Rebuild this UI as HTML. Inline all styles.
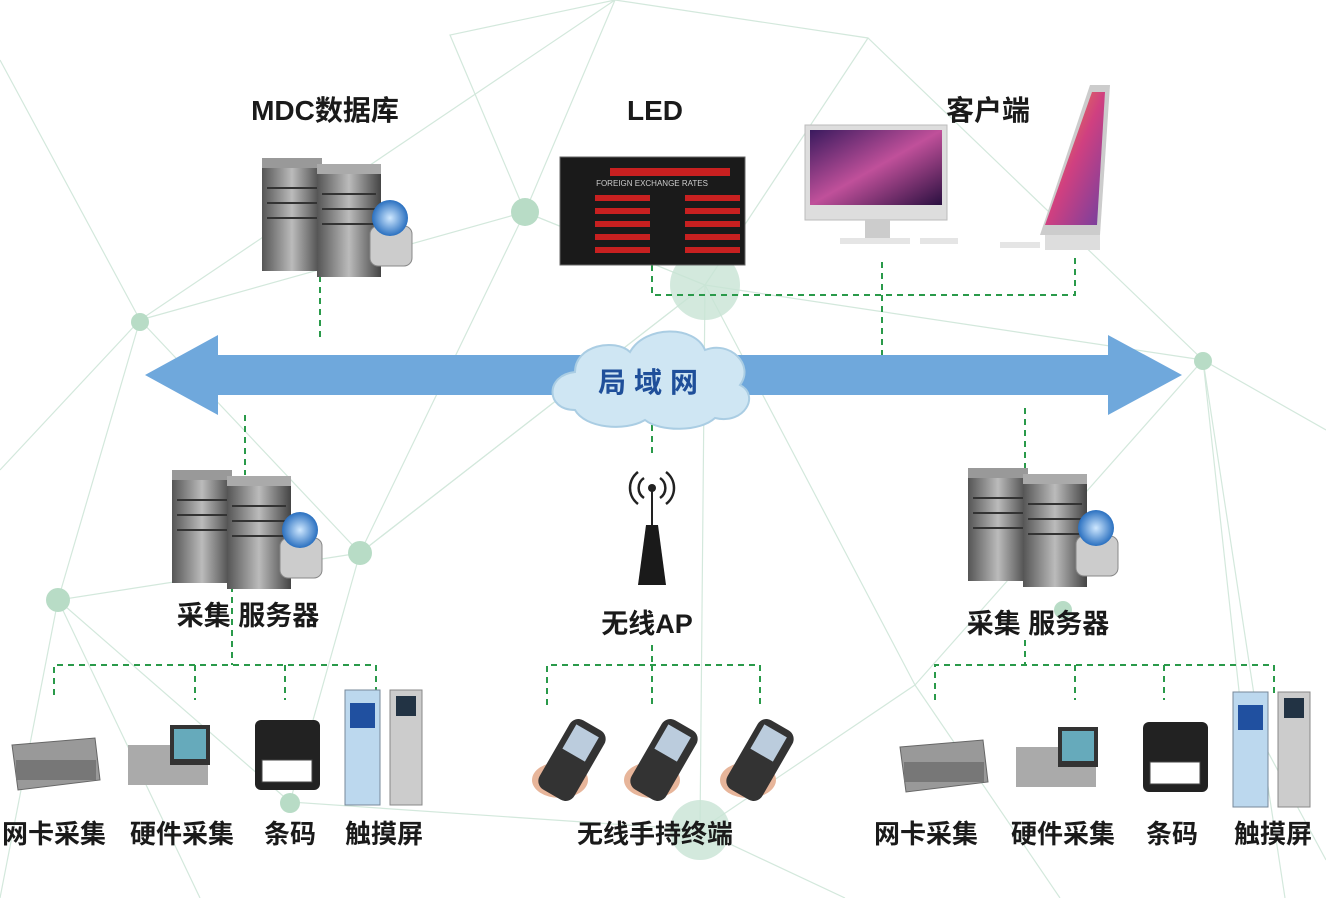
<!DOCTYPE html>
<html><head><meta charset="utf-8"><style>
html,body{margin:0;padding:0;background:#fff;}
svg{display:block}
text{font-family:"Liberation Sans","Noto Sans CJK SC",sans-serif;fill:#1a1a1a;}
.lb{font-weight:bold;}
</style></head><body>
<svg width="1326" height="898" viewBox="0 0 1326 898" xmlns="http://www.w3.org/2000/svg">
<defs>
<linearGradient id="srv" x1="0" x2="1"><stop offset="0" stop-color="#555"/><stop offset="0.5" stop-color="#bbb"/><stop offset="1" stop-color="#444"/></linearGradient>
<linearGradient id="scr" x1="0" y1="0" x2="1" y2="1"><stop offset="0" stop-color="#3a1a5e"/><stop offset="0.5" stop-color="#c0509a"/><stop offset="1" stop-color="#2a1040"/></linearGradient>
<linearGradient id="scr2" x1="0" y1="0" x2="1" y2="1"><stop offset="0" stop-color="#f0a030"/><stop offset="0.5" stop-color="#d04080"/><stop offset="1" stop-color="#7040a0"/></linearGradient>
<radialGradient id="globe"><stop offset="0" stop-color="#cfe8ff"/><stop offset="1" stop-color="#2a70c0"/></radialGradient>
<g id="server">
 <rect x="0" y="8" width="60" height="105" fill="url(#srv)"/>
 <rect x="0" y="0" width="60" height="10" fill="#999"/>
 <rect x="55" y="14" width="64" height="105" fill="url(#srv)"/>
 <rect x="55" y="6" width="64" height="10" fill="#aaa"/>
 <g stroke="#333" stroke-width="2"><line x1="5" y1="30" x2="55" y2="30"/><line x1="5" y1="45" x2="55" y2="45"/><line x1="5" y1="60" x2="55" y2="60"/><line x1="60" y1="36" x2="114" y2="36"/><line x1="60" y1="51" x2="114" y2="51"/><line x1="60" y1="66" x2="114" y2="66"/></g>
 <rect x="108" y="68" width="42" height="40" rx="8" fill="#ccc" stroke="#888"/>
 <circle cx="128" cy="60" r="18" fill="url(#globe)"/>
</g>
<g id="phone">
 <ellipse cx="30" cy="65" rx="28" ry="18" fill="#e7b59a"/>
 <rect x="22" y="5" width="40" height="80" rx="10" fill="#333" transform="rotate(30 42 45)"/>
 <rect x="28" y="12" width="26" height="28" fill="#bcd" transform="rotate(30 42 45)"/>
</g>
</defs>
<g stroke="#d3e8dc" stroke-width="1.2" fill="none">
<polyline points="0,60 140,320 615,0 868,38 1203,360 1326,430"/>
<polyline points="140,320 58,600 0,898"/>
<polyline points="140,320 525,212 450,35 615,0 525,212 705,285 1203,360"/>
<polyline points="360,553 525,212 705,285 360,553 58,600 290,802"/>
<polyline points="360,553 705,285 915,685 1203,360 1285,898"/>
<polyline points="705,285 700,830 915,685 1060,898"/>
<polyline points="360,553 290,802 700,830 845,898"/>
<polyline points="58,600 200,898"/><polyline points="1203,360 1240,700 1326,860"/>
<polyline points="868,38 705,285"/><polyline points="0,470 140,320 360,553"/>
</g>
<g fill="#b8dcc6"><circle cx="525" cy="212" r="14"/><circle cx="140" cy="322" r="9"/><circle cx="58" cy="600" r="12"/><circle cx="360" cy="553" r="12"/><circle cx="1203" cy="361" r="9"/><circle cx="290" cy="803" r="10"/><circle cx="1063" cy="610" r="9"/></g>
<circle cx="705" cy="285" r="35" fill="#c8e4d4" opacity="0.8"/>
<circle cx="700" cy="830" r="30" fill="#c8e4d4" opacity="0.8"/>
<g stroke="#2a9a4a" stroke-width="2" stroke-dasharray="6,5" fill="none">
<line x1="320" y1="265" x2="320" y2="342"/>
<polyline points="652,265 652,295 1075,295 1075,255"/>
<line x1="882" y1="262" x2="882" y2="355"/>
<line x1="245" y1="415" x2="245" y2="475"/>
<line x1="1025" y1="408" x2="1025" y2="470"/>
<line x1="652" y1="425" x2="652" y2="458"/>
<line x1="232" y1="575" x2="232" y2="665"/>
<polyline points="54,695 54,665 376,665 376,690"/>
<line x1="195" y1="665" x2="195" y2="700"/><line x1="285" y1="665" x2="285" y2="700"/>
<line x1="652" y1="645" x2="652" y2="665"/>
<polyline points="547,705 547,665 760,665 760,705"/><line x1="652" y1="665" x2="652" y2="705"/>
<line x1="1025" y1="640" x2="1025" y2="665"/>
<polyline points="935,700 935,665 1274,665 1274,695"/>
<line x1="1075" y1="665" x2="1075" y2="700"/><line x1="1164" y1="665" x2="1164" y2="700"/>
</g>
<polygon points="145,375 218,335 218,355 1108,355 1108,335 1182,375 1108,415 1108,395 218,395 218,415" fill="#6fa8dc"/>
<g fill="#cfe6f3" stroke="#aacde3" stroke-width="2">
<path d="M575,410 C545,410 545,375 575,372 C575,345 615,338 630,352 C645,325 695,325 705,350 C730,340 755,365 740,385 C760,395 745,425 715,418 C700,432 660,432 645,420 C625,432 585,428 575,410 Z"/>
</g>
<text x="652" y="392" font-size="28" font-weight="bold" text-anchor="middle" style="fill:#1f4f9a;letter-spacing:8px">局域网</text>
<text class="lb" x="325" y="120" font-size="28" text-anchor="middle">MDC数据库</text>
<text class="lb" x="655" y="120" font-size="28" text-anchor="middle">LED</text>
<text class="lb" x="988" y="120" font-size="28" text-anchor="middle">客户端</text>
<use href="#server" x="262" y="158"/>
<rect x="560" y="157" width="185" height="108" fill="#1a1a1a" stroke="#666"/>
<g fill="#c82020"><rect x="610" y="168" width="120" height="8"/><rect x="595" y="195" width="55" height="6"/><rect x="595" y="208" width="55" height="6"/><rect x="595" y="221" width="55" height="6"/><rect x="595" y="234" width="55" height="6"/><rect x="595" y="247" width="55" height="6"/><rect x="685" y="195" width="55" height="6"/><rect x="685" y="208" width="55" height="6"/><rect x="685" y="221" width="55" height="6"/><rect x="685" y="234" width="55" height="6"/><rect x="685" y="247" width="55" height="6"/></g>
<text x="652" y="186" font-size="8" text-anchor="middle" style="fill:#ccc">FOREIGN EXCHANGE RATES</text>
<rect x="805" y="125" width="142" height="95" fill="#ddd" stroke="#bbb"/>
<rect x="810" y="130" width="132" height="75" fill="url(#scr)"/>
<rect x="865" y="220" width="25" height="20" fill="#ccc"/>
<rect x="840" y="238" width="70" height="6" fill="#e5e5e5"/><rect x="920" y="238" width="38" height="6" fill="#e5e5e5"/>
<polygon points="1090,85 1110,85 1100,235 1040,235" fill="#ccc"/>
<polygon points="1092,92 1105,92 1097,225 1045,225" fill="url(#scr2)"/>
<rect x="1045" y="235" width="55" height="15" fill="#ddd"/>
<rect x="1000" y="242" width="40" height="6" fill="#e5e5e5"/>
<use href="#server" x="172" y="470"/>
<use href="#server" x="968" y="468"/>
<g transform="translate(652,0)">
<polygon points="-14,585 14,585 6,525 -6,525" fill="#1a1a1a"/>
<line x1="0" y1="525" x2="0" y2="490" stroke="#222" stroke-width="2"/>
<circle cx="0" cy="488" r="4" fill="#222"/>
<path d="M-8,478 A12,12 0 0 0 -8,498 M8,478 A12,12 0 0 1 8,498 M-14,472 A20,20 0 0 0 -14,504 M14,472 A20,20 0 0 1 14,504" stroke="#222" stroke-width="2.5" fill="none"/>
</g>
<text class="lb" x="248" y="625" font-size="27" text-anchor="middle">采集 服务器</text>
<text class="lb" x="647" y="633" font-size="27" text-anchor="middle">无线AP</text>
<text class="lb" x="1038" y="633" font-size="27" text-anchor="middle">采集 服务器</text>
<g id="botL">
<polygon points="12,745 95,738 100,780 18,790" fill="#999" stroke="#666"/>
<rect x="16" y="760" width="80" height="20" fill="#777"/>
<rect x="128" y="745" width="80" height="40" fill="#aaa"/><rect x="170" y="725" width="40" height="40" fill="#333"/><rect x="174" y="729" width="32" height="30" fill="#6ab"/>
<rect x="255" y="720" width="65" height="70" rx="6" fill="#222"/><rect x="262" y="760" width="50" height="22" fill="#fff" stroke="#444"/>
<rect x="345" y="690" width="35" height="115" fill="#bcd8ee" stroke="#789"/><rect x="350" y="703" width="25" height="25" fill="#2050a0"/>
<rect x="390" y="690" width="32" height="115" fill="#ccc" stroke="#888"/><rect x="396" y="696" width="20" height="20" fill="#234"/>
</g>
<use href="#botL" x="888" y="2"/>
<use href="#phone" x="530" y="715"/><use href="#phone" x="622" y="715"/><use href="#phone" x="718" y="715"/>
<g font-size="26" class="lb">
<text x="54" y="843" text-anchor="middle">网卡采集</text>
<text x="182" y="843" text-anchor="middle">硬件采集</text>
<text x="290" y="843" text-anchor="middle">条码</text>
<text x="384" y="843" text-anchor="middle">触摸屏</text>
<text x="655" y="843" text-anchor="middle">无线手持终端</text>
<text x="926" y="843" text-anchor="middle">网卡采集</text>
<text x="1063" y="843" text-anchor="middle">硬件采集</text>
<text x="1172" y="843" text-anchor="middle">条码</text>
<text x="1273" y="843" text-anchor="middle">触摸屏</text>
</g>
</svg>
</body></html>
